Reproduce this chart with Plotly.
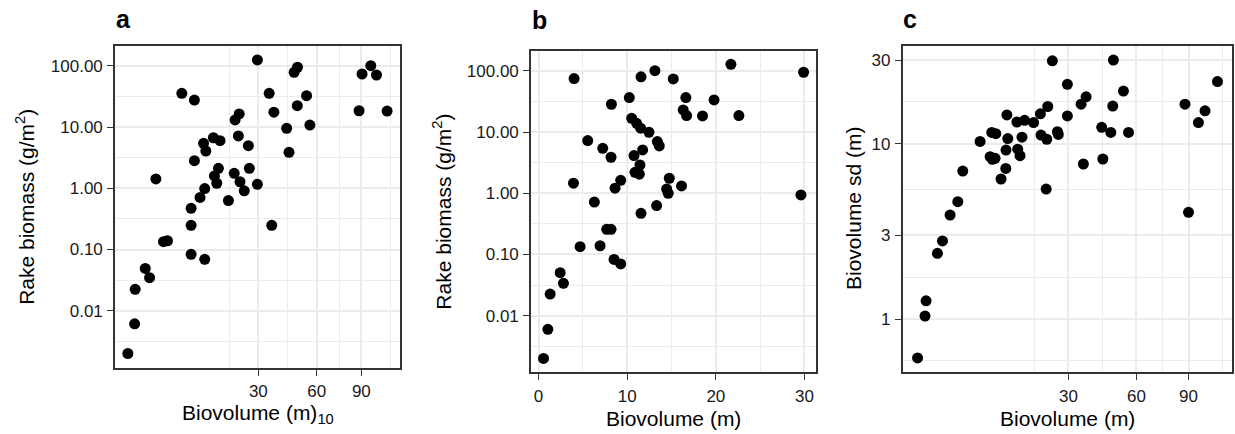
import numpy as np
import plotly.graph_objects as go

# ---------------- data ----------------
a_biovolume = [0.16, 0.44, 0.47, 1.16, 1.55, 2.22, 3.19, 3.77, 6.25, 8.94,
               8.94, 8.19, 8.19, 8.19, 11.5, 10.3, 11.5, 11.2, 11.8, 13.9,
               15.9, 14.2, 15.4, 14.9, 18.6, 20.9, 22.4, 22.1, 20.6, 22.7,
               24.3, 25.9, 26.3, 29.6, 29.6, 34.8, 37.0, 36.0, 43.3, 44.5,
               47.2, 49.0, 48.9, 54.1, 56.0, 88.3, 90.5, 97.1, 101.5, 110.0]
a_biomass = [0.002, 0.0061, 0.0224, 0.049, 0.0346, 1.42, 0.134, 0.139, 35.7, 27.7,
             2.83, 0.47, 0.248, 0.0835, 0.069, 0.71, 0.99, 5.43, 4.07, 6.7,
             6.0, 1.59, 2.12, 1.21, 0.63, 13.1, 16.4, 7.16, 1.76, 1.28,
             0.91, 4.97, 2.12, 125.0, 1.16, 35.7, 17.5, 0.248, 9.55, 3.87,
             78.6, 95.0, 22.4, 32.6, 10.8, 18.5, 73.7, 100.7, 71.0, 18.3]

b_biovolume = [0.56, 1.05, 1.31, 2.44, 2.81, 3.94, 4.01, 4.69, 5.55, 6.30,
               6.94, 7.24, 7.69, 8.18, 8.18, 8.22, 8.63, 8.52, 9.27, 9.27,
               10.24, 10.51, 10.77, 10.88, 11.37, 11.44, 11.07, 11.52, 11.74, 11.56,
               11.56, 12.46, 13.13, 13.32, 13.40, 13.62, 14.75, 14.45, 14.63, 15.2,
               16.13, 16.32, 16.62, 16.7, 18.5, 19.8, 21.7, 22.6, 29.6, 29.9]
b_biomass = [0.002, 0.006, 0.0226, 0.0505, 0.0338, 1.46, 75.0, 0.134, 7.26, 0.72,
             0.139, 5.44, 0.258, 0.258, 3.88, 28.5, 1.21, 0.083, 0.070, 1.63,
             36.6, 16.8, 4.13, 2.2, 2.05, 2.9, 13.9, 11.6, 5.11, 80.0,
             0.47, 9.94, 101.0, 0.63, 7.0, 5.94, 1.76, 1.18, 1.0, 74.0,
             1.32, 23.0, 36.6, 18.6, 18.4, 33.6, 128.0, 18.6, 0.94, 95.0]

c_biovolume = [0.19, 0.47, 0.52, 1.21, 1.61, 2.32, 3.17, 3.79, 6.38, 8.18,
               8.63, 9.16, 8.5, 9.3, 10.4, 11.45, 11.5, 11.9, 11.7, 14.1,
               14.3, 14.9, 15.4, 16.1, 18.6, 20.6, 20.8, 22.6, 22.9, 22.4,
               24.4, 26.1, 26.4, 29.6, 29.6, 34.8, 36.8, 35.7, 43.4, 43.9,
               47.5, 48.7, 48.4, 53.5, 56.0, 87.8, 90.0, 96.4, 100.8, 109.3]
c_sd = [0.60, 1.04, 1.27, 2.37, 2.79, 3.92, 4.67, 6.98, 10.3, 8.43,
        8.14, 8.25, 11.6, 11.4, 6.29, 7.23, 9.2, 10.7, 14.6, 13.3,
        9.3, 8.54, 10.9, 13.6, 13.2, 14.8, 11.2, 10.6, 16.3, 5.51,
        29.7, 11.7, 11.3, 21.8, 14.4, 16.8, 18.5, 7.66, 12.4, 8.18,
        11.6, 30.0, 16.4, 19.96, 11.6, 16.8, 4.06, 13.2, 15.4, 22.6]

sqrt_breaks = [30, 60, 90]
sqrt_labels = ["30", "60", "90"]
log_breaks = [0.01, 0.1, 1, 10, 100]
log_labels = ["0.01", "0.10", "1.00", "10.00", "100.00"]
lin_breaks = [0, 10, 20, 30]
lin_labels = ["0", "10", "20", "30"]
sd_breaks = [1, 3, 10, 30]
sd_labels = ["1", "3", "10", "30"]

# ---------------- helpers ----------------
W, H = 1235, 434


def minor_mid(major_t, lo, hi):
    b = list(major_t)
    bd = b[1] - b[0]
    if lo < b[0]:
        b = [b[0] - bd] + b
    if hi > b[-1]:
        b = b + [b[-1] + bd]
    mids = [(b[i] + b[i + 1]) / 2 for i in range(len(b) - 1)]
    return [m for m in mids if lo <= m <= hi]


def px_x(p):
    return p / W


def px_y(p):
    return 1 - p / H


FONT = "Liberation Sans, Arial, Helvetica, sans-serif"
TICKCOL = "#1a1a1a"
GRID = "#EBEBEB"


def axis_style(tickvals, ticktext, minorvals, rng, domain, anchor, log=False):
    d = dict(
        domain=domain, anchor=anchor, range=rng,
        tickmode="array", tickvals=tickvals, ticktext=ticktext,
        showline=True, mirror=True, linecolor="#333333", linewidth=1.6,
        ticks="outside", ticklen=6, tickwidth=1.4, tickcolor="#333333",
        showgrid=True, gridcolor=GRID, gridwidth=1.6, zeroline=False,
        tickfont=dict(family=FONT, size=17, color=TICKCOL),
        ticklabelstandoff=1,
        minor=dict(tickmode="array", tickvals=minorvals, showgrid=True,
                   gridcolor=GRID, gridwidth=0.8, ticks=""),
    )
    if log:
        d["type"] = "log"
    return d


# panel frames in pixels
pa = dict(l=115, r=400, t=46, b=367.7)
pb = dict(l=531, r=816, t=51, b=372.3)
pc = dict(l=902.7, r=1231.7, t=45.7, b=372.3)

ra_x = [-0.10, 10.99]
ra_y = [-2.931, 2.325]
rb_x = [-0.85, 31.3]
rb_y = [-2.925, 2.325]
rc_x = [-0.06, 10.93]
rc_y = [-0.304, 1.559]

sq_t = [np.sqrt(v) for v in sqrt_breaks]
lg_t = [np.log10(v) for v in log_breaks]
sd_t = [np.log10(v) for v in sd_breaks]

fig = go.Figure()
mk = dict(color="black", size=11, line=dict(width=0))
fig.add_trace(go.Scatter(x=np.sqrt(a_biovolume), y=a_biomass, mode="markers",
                         marker=mk, xaxis="x", yaxis="y", showlegend=False))
fig.add_trace(go.Scatter(x=b_biovolume, y=b_biomass, mode="markers",
                         marker=mk, xaxis="x2", yaxis="y2", showlegend=False))
fig.add_trace(go.Scatter(x=np.sqrt(c_biovolume), y=c_sd, mode="markers",
                         marker=mk, xaxis="x3", yaxis="y3", showlegend=False))

layout = dict(
    width=W, height=H, margin=dict(l=0, r=0, t=0, b=0),
    paper_bgcolor="white", plot_bgcolor="white",
    font=dict(family=FONT, color="black"),
    xaxis=axis_style(sq_t, sqrt_labels, minor_mid(sq_t, *ra_x), ra_x,
                     [px_x(pa["l"]), px_x(pa["r"])], "y"),
    yaxis=axis_style(log_breaks, log_labels,
                     [10 ** m for m in minor_mid(lg_t, *ra_y)], ra_y,
                     [px_y(pa["b"]), px_y(pa["t"])], "x", log=True),
    xaxis2=axis_style(lin_breaks, lin_labels, minor_mid(lin_breaks, *rb_x), rb_x,
                      [px_x(pb["l"]), px_x(pb["r"])], "y2"),
    yaxis2=axis_style(log_breaks, log_labels,
                      [10 ** m for m in minor_mid(lg_t, *rb_y)], rb_y,
                      [px_y(pb["b"]), px_y(pb["t"])], "x2", log=True),
    xaxis3=axis_style(sq_t, sqrt_labels, minor_mid(sq_t, *rc_x), rc_x,
                      [px_x(pc["l"]), px_x(pc["r"])], "y3"),
    yaxis3=axis_style(sd_breaks, sd_labels,
                      [10 ** m for m in minor_mid(sd_t, *rc_y)], rc_y,
                      [px_y(pc["b"]), px_y(pc["t"])], "x3", log=True),
)
fig.update_layout(**layout)

TITLE = 21
ann = []


def add_text(text, xp, yp, size, angle=0, bold=False, xanchor="center"):
    ann.append(dict(text=("<b>%s</b>" % text) if bold else text,
                    x=px_x(xp), y=px_y(yp), xref="paper", yref="paper",
                    showarrow=False, textangle=angle, xanchor=xanchor,
                    yanchor="middle",
                    font=dict(family=FONT, size=size, color="black")))


# panel tags
add_text("a", 114, 19, 25, bold=True, xanchor="left")
add_text("b", 530, 20, 25, bold=True, xanchor="left")
add_text("c", 901, 19, 25, bold=True, xanchor="left")
# x titles
add_text("Biovolume (m)<sub>10</sub>", (pa["l"] + pa["r"]) / 2, 414, TITLE)
add_text("Biovolume (m)", (pb["l"] + pb["r"]) / 2, 418, TITLE)
add_text("Biovolume (m)", (pc["l"] + pc["r"]) / 2, 418, TITLE)
# y titles
add_text("Rake biomass (g/m<sup>2</sup>)", 25, (pa["t"] + pa["b"]) / 2, TITLE, angle=-90)
add_text("Rake biomass (g/m<sup>2</sup>)", 442, (pb["t"] + pb["b"]) / 2, TITLE, angle=-90)
add_text("Biovolume sd (m)", 853, (pc["t"] + pc["b"]) / 2, TITLE, angle=-90)

fig.update_layout(annotations=ann)
fig.write_html("out.html")
